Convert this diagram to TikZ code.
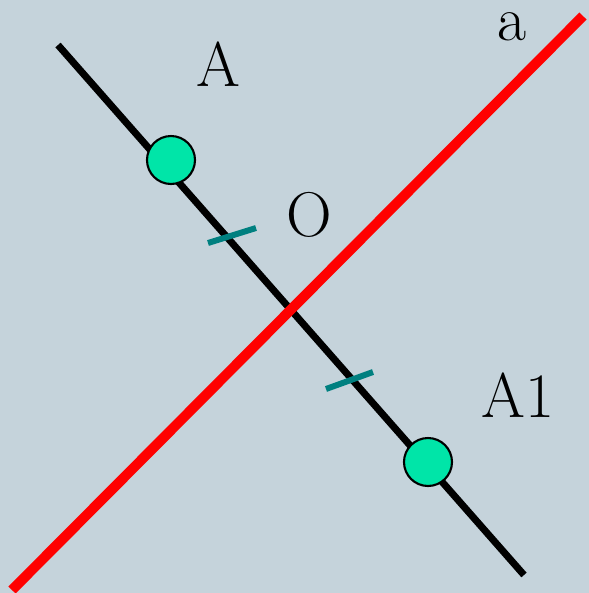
\documentclass[tikz,border=0pt]{standalone}
\usetikzlibrary{positioning, calc}

\definecolor{bgcol}{HTML}{C5D3DB}
\definecolor{ptcol}{HTML}{00E5A8}
\definecolor{tickcol}{HTML}{008080}

\begin{document}
\begin{tikzpicture}[
  x=0.02cm, y=-0.02cm,
  pt/.style={circle, draw=black, line width=1.2pt, fill=ptcol, minimum size=0.96cm, inner sep=0pt},
  axisline/.style={red, line width=5.7pt},
  segline/.style={black, line width=4pt},
  tickmark/.style={tickcol, line width=3.4pt},
  lab/.style={font=\fontsize{36}{36}\selectfont, inner sep=0pt, anchor=base}
]
  \fill[bgcol] (0,0) rectangle (589,593);
  \useasboundingbox (0,0) rectangle (589,593);

  % line through A and A1, and the axis a
  \coordinate (s0) at (58,45);
  \coordinate (s1) at (524,575);
  \coordinate (r0) at (12,590);
  \coordinate (r1) at (583,16);
  \draw[segline] (s0) -- (s1);
  \draw[axisline] (r0) -- (r1);

  % equal halves
  \coordinate (t0a) at (208,243);
  \coordinate (t0b) at (256,228);
  \coordinate (t1a) at (326,389);
  \coordinate (t1b) at (373,372);
  \draw[tickmark] (t0a) -- (t0b);
  \draw[tickmark] (t1a) -- (t1b);

  \node[pt] (pA) at (171,160) {};
  \node[pt] (pA1) at (428,462) {};

  \node[lab] (lA) at (218,86) {A};
  \node[lab] (lO) at (309,236) {O};
  \node[lab] (la) at (512,40) {a};
  \node[lab] (lA1) at (518,417) {A1};
\end{tikzpicture}
\end{document}
